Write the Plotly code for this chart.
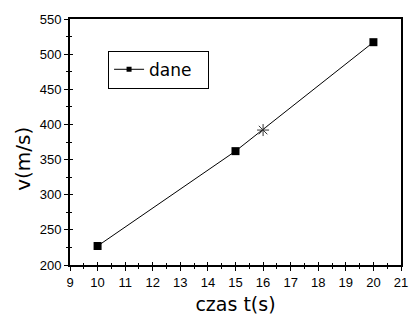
import plotly.graph_objects as go

czas = [10, 15, 20]
predkosc = [227, 362, 517]
star_t = [16]
star_v = [392]
x_ticks = list(range(9, 22))
y_ticks = list(range(200, 551, 50))

fig = go.Figure()
fig.add_trace(go.Scatter(
    x=czas, y=predkosc, mode="lines+markers", name="dane", showlegend=False,
    line=dict(color="black", width=1),
    marker=dict(symbol="square", size=8, color="black"),
))
# legend-only entry with a smaller marker
fig.add_trace(go.Scatter(
    x=[None], y=[None], mode="lines+markers", name="dane&nbsp;&nbsp;",
    line=dict(color="black", width=1),
    marker=dict(symbol="square", size=5, color="black"),
))
fig.add_trace(go.Scatter(
    x=star_t, y=star_v, mode="markers", showlegend=False,
    marker=dict(symbol="asterisk-open", size=10, color="#333",
                line=dict(color="#333", width=1)),
))
fig.add_trace(go.Scatter(x=[9], y=[200], xaxis="x2", yaxis="y2",
                         mode="markers", marker=dict(opacity=0),
                         showlegend=False, hoverinfo="skip"))

tickfont = dict(family="Liberation Sans, Arial", size=13, color="black")
titlefont = dict(family="DejaVu Sans, Verdana", size=19, color="black")
common = dict(showgrid=False, zeroline=False, linecolor="black", linewidth=2,
              ticks="outside", ticklen=4, tickwidth=1, tickcolor="black",
              tickfont=tickfont)

fig.update_layout(
    width=416, height=320,
    margin=dict(l=70, r=8, t=19, b=53),
    plot_bgcolor="white", paper_bgcolor="white",
    showlegend=True,
    legend=dict(x=0.115, y=0.871, xanchor="left", yanchor="top",
                bordercolor="black", borderwidth=1, bgcolor="white",
                font=dict(family="DejaVu Sans, Verdana", size=17, color="black"),
                itemwidth=30, tracegroupgap=0),
    xaxis=dict(range=[9, 21], tickvals=x_ticks, mirror=True,
               minor=dict(dtick=0.5, ticks="outside", ticklen=2, tickcolor="black"),
               title=dict(text="czas t(s)", standoff=9, font=titlefont),
               **common),
    yaxis=dict(range=[200, 550], tickvals=y_ticks, mirror=True,
               minor=dict(dtick=25, ticks="outside", ticklen=2, tickcolor="black"),
               **common),
    xaxis2=dict(range=[9, 21], overlaying="x", anchor="y2", side="bottom",
                showgrid=False, zeroline=False, showline=False, showticklabels=False,
                tickvals=x_ticks, ticks="inside", ticklen=3, tickcolor="black",
                minor=dict(dtick=0.5, ticks="inside", ticklen=2, tickcolor="black")),
    yaxis2=dict(range=[200, 550], overlaying="y", anchor="x2", side="left",
                showgrid=False, zeroline=False, showline=False, showticklabels=False,
                tickvals=y_ticks, ticks="inside", ticklen=3, tickcolor="black",
                minor=dict(dtick=25, ticks="inside", ticklen=2, tickcolor="black")),
    annotations=[dict(text="v(m/s)", textangle=-90, showarrow=False,
                      xref="paper", yref="paper", x=-70/338 + 22/338, y=(267-160)/248,
                      xanchor="center", yanchor="middle",
                      font=dict(family="DejaVu Sans, Verdana", size=20, color="black"))],
)

fig.write_html("out.html")
